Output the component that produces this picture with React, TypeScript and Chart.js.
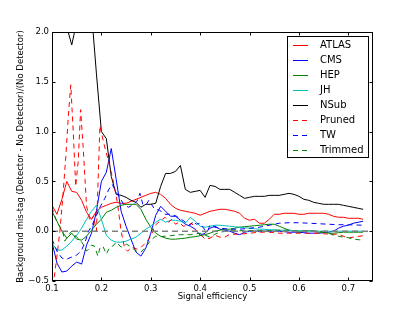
import React, { useEffect, useRef } from "react";
import { Chart, registerables } from "chart.js";

Chart.register(...registerables);

// Common signal-efficiency grid for the solid series
const X = [
  0.10, 0.11, 0.12, 0.13, 0.14, 0.15, 0.16, 0.17, 0.18, 0.19,
  0.20, 0.21, 0.22, 0.23, 0.24, 0.25, 0.26, 0.27, 0.28, 0.29,
  0.30, 0.31, 0.32, 0.33, 0.34, 0.35, 0.36, 0.37, 0.38, 0.39,
  0.40, 0.41, 0.42, 0.43, 0.44, 0.45, 0.46, 0.47, 0.48, 0.49,
  0.50, 0.51, 0.52, 0.53, 0.54, 0.55, 0.56, 0.57, 0.58, 0.59,
  0.60, 0.61, 0.62, 0.63, 0.64, 0.65, 0.66, 0.67, 0.68, 0.69,
  0.70, 0.71, 0.72, 0.73,
];

const ATLAS = [
  0.26, 0.17, 0.32, 0.50, 0.40, 0.39, 0.31, 0.19, 0.12, 0.20,
  0.24, 0.26, 0.28, 0.29, 0.28, 0.28, 0.30, 0.32, 0.34, 0.36,
  0.38, 0.39, 0.37, 0.33, 0.27, 0.23, 0.21, 0.20, 0.19, 0.18,
  0.16, 0.18, 0.20, 0.21, 0.22, 0.22, 0.21, 0.20, 0.18, 0.13,
  0.11, 0.12, 0.08, 0.08, 0.12, 0.17, 0.17, 0.18, 0.18, 0.18,
  0.17, 0.17, 0.18, 0.18, 0.18, 0.18, 0.17, 0.15, 0.14, 0.14,
  0.13, 0.13, 0.13, 0.12,
];

const CMS = [
  -0.11, -0.32, -0.41, -0.40, -0.35, -0.31, -0.33, -0.14, -0.02, 0.20,
  0.50, 0.59, 0.83, 0.52, 0.20, 0.05, -0.08, -0.21, -0.25, -0.17,
  -0.02, 0.16, 0.25, 0.20, 0.15, 0.15, 0.11, 0.07, 0.05, 0.02,
  -0.04, -0.02, 0.03, 0.05, 0.02, 0.01, 0.0, -0.02, -0.035, -0.01,
  0.0, 0.0, 0.0, 0.0, 0.0, 0.0, 0.0, -0.005, -0.01, -0.01,
  -0.01, -0.015, -0.02, -0.02, -0.02, -0.015, -0.01, 0.0, 0.03, 0.05,
  0.06, 0.08, 0.09, 0.10,
];

const HEP = [
  0.20, 0.10, 0.0, -0.07, -0.02, -0.08, -0.09, -0.05, 0.01, 0.07,
  0.12, 0.19, 0.21, 0.24, 0.26, 0.27, 0.27, 0.27, 0.22, 0.12,
  0.04, -0.02, -0.05, -0.07, -0.08, -0.08, -0.075, -0.07, -0.06, -0.055,
  -0.045, -0.035, -0.02, 0.0, 0.01, 0.02, 0.02, 0.03, 0.04, 0.045,
  0.05, 0.055, 0.06, 0.065, 0.07, 0.07, 0.05, 0.03, 0.01, 0.0,
  -0.01, 0.0, 0.005, 0.0, -0.01, -0.01, -0.02, -0.02, -0.015, -0.01,
  -0.01, -0.01, -0.01, -0.01,
];

const JH = [
  -0.12, -0.19, -0.19, -0.15, -0.10, -0.04, 0.03, 0.12, 0.20, 0.26,
  0.12, -0.04, -0.09, -0.11, -0.11, -0.10, -0.08, -0.06, -0.02, 0.02,
  0.05, 0.09, 0.12, 0.09, 0.11, 0.11, 0.10, 0.08, 0.14, 0.10,
  0.05, 0.04, 0.05, 0.06, 0.06, 0.055, 0.05, 0.045, 0.04, 0.035,
  0.03, 0.025, 0.02, 0.02, 0.015, 0.015, 0.01, 0.01, 0.01, 0.005,
  0.005, 0.005, 0.0, 0.0, 0.0, 0.0, 0.0, 0.0, 0.0, 0.0,
  0.0, 0.0, 0.0, 0.0,
];

const NSUB = [
  2.5, 2.35, 2.2, 2.05, 1.87, 2.1, 2.4, 2.5, 2.2, 1.58,
  1.0, 0.93, 0.55, 0.37, 0.36, 0.34, 0.31, 0.29, 0.24, 0.27,
  0.27, 0.28, 0.45, 0.58, 0.58, 0.60, 0.66, 0.42, 0.39, 0.40,
  0.41, 0.34, 0.46, 0.45, 0.42, 0.42, 0.42, 0.39, 0.36, 0.33,
  0.34, 0.35, 0.35, 0.35, 0.36, 0.36, 0.36, 0.37, 0.38, 0.37,
  0.35, 0.32, 0.31, 0.29, 0.28, 0.27, 0.27, 0.27, 0.27, 0.26,
  0.25, 0.24, 0.23, 0.22,
];

const PRUNED_X = [
  0.100, 0.105, 0.110, 0.116, 0.122, 0.128, 0.133, 0.138, 0.143, 0.148,
  0.153, 0.158, 0.163, 0.170, 0.177, 0.184, 0.190, 0.197, 0.205, 0.214,
  0.222, 0.232, 0.240, 0.247, 0.253, 0.262, 0.272, 0.281, 0.291, 0.301,
  0.308, 0.318, 0.329, 0.336, 0.343, 0.350, 0.357, 0.366, 0.375, 0.383,
  0.390, 0.400, 0.410, 0.420, 0.430, 0.440, 0.450, 0.460, 0.480, 0.500,
  0.520, 0.540, 0.560, 0.580, 0.600, 0.620, 0.640, 0.660, 0.680, 0.700,
  0.710, 0.730,
];
const PRUNED = [
  -0.55, -0.45, -0.25, 0.0, 0.35, 0.75, 1.15, 1.47, 1.0, 0.45,
  0.7, 1.22, 0.85, 0.25, 0.1, 0.15, 0.0, 1.06, 0.88, 0.71,
  0.55, 0.3, 0.0, -0.17, -0.2, -0.16, -0.18, -0.16, -0.11, -0.045,
  0.055, 0.10, 0.14, 0.09, 0.12, 0.07, 0.09, 0.05, 0.06, 0.08,
  0.02, -0.03, -0.08, -0.07, -0.04, -0.06, -0.06, -0.03, -0.03, -0.02,
  -0.01, -0.01, -0.02, -0.02, -0.02, -0.02, -0.02, -0.03, -0.03, -0.07,
  -0.06, -0.045,
];

const TW_X = [
  0.100, 0.110, 0.120, 0.130, 0.140, 0.150, 0.160, 0.167, 0.174, 0.180,
  0.184, 0.190, 0.197, 0.207, 0.215, 0.222, 0.230, 0.237, 0.245, 0.255,
  0.265, 0.272, 0.278, 0.284, 0.290, 0.296, 0.300, 0.308, 0.318, 0.329,
  0.340, 0.352, 0.362, 0.370, 0.380, 0.386, 0.392, 0.400, 0.410, 0.415,
  0.420, 0.430, 0.440, 0.460, 0.480, 0.500, 0.520, 0.540, 0.560, 0.580,
  0.600, 0.620, 0.640, 0.660, 0.680, 0.700, 0.730,
];
const TW = [
  -0.08, -0.20, -0.27, -0.28, -0.26, -0.24, -0.19, -0.11, 0.0, 0.05,
  0.09, 0.16, 0.24, 0.33, 0.42, 0.47, 0.39, 0.34, 0.27, 0.24,
  0.27, 0.30, 0.38, 0.27, 0.26, 0.31, 0.28, 0.22, 0.21, 0.17,
  0.17, 0.15, 0.12, 0.09, 0.06, 0.10, 0.07, 0.08, 0.01, 0.0,
  0.06, 0.04, 0.03, 0.02, 0.02, 0.03, 0.04, 0.06, 0.08, 0.085,
  0.085, 0.08, 0.075, 0.07, 0.065, 0.065, 0.06,
];

const TRIMMED_X = [
  0.100, 0.105, 0.110, 0.115, 0.120, 0.126, 0.133, 0.140, 0.145, 0.150,
  0.157, 0.163, 0.170, 0.174, 0.180, 0.186, 0.193, 0.197, 0.203, 0.210,
  0.217, 0.223, 0.230, 0.240, 0.251, 0.260, 0.271, 0.280, 0.291, 0.300,
  0.310, 0.320, 0.340, 0.360, 0.380, 0.400, 0.410, 0.420, 0.430, 0.440,
  0.460, 0.480, 0.500, 0.520, 0.540, 0.560, 0.580, 0.600, 0.620, 0.640,
  0.660, 0.670, 0.680, 0.690, 0.700, 0.710, 0.720, 0.730,
];
const TRIMMED = [
  0.24, 0.16, 0.09, 0.05, 0.03, -0.10, -0.04, 0.0, -0.03, -0.06,
  -0.09, -0.13, -0.20, -0.18, -0.14, -0.15, -0.25, -0.17, -0.15, -0.23,
  -0.16, -0.15, -0.11, -0.16, -0.13, -0.16, -0.20, -0.21, -0.15, -0.09,
  -0.05, -0.055, -0.045, -0.035, -0.035, -0.02, -0.04, -0.06, -0.03, -0.01,
  0.005, 0.005, 0.005, 0.005, 0.005, 0.01, 0.01, 0.0, 0.005, 0.0,
  -0.02, -0.04, -0.05, -0.06, -0.065, -0.08, -0.085, -0.09,
];

const ZERO_X = [0.1, 0.75];
const ZERO_Y = [0, 0];

const X_TICKS = [0.1, 0.2, 0.3, 0.4, 0.5, 0.6, 0.7];
const X_TICK_LABELS = ["0.1", "0.2", "0.3", "0.4", "0.5", "0.6", "0.7"];
const Y_TICKS = [-0.5, 0.0, 0.5, 1.0, 1.5, 2.0];
const Y_TICK_LABELS = ["\u22120.5", "0.0", "0.5", "1.0", "1.5", "2.0"];

const FONT = '"DejaVu Sans", "Liberation Sans", sans-serif';

type S = { label: string; xs: number[]; ys: number[]; color: string; dash: number[] };

const SERIES: S[] = [
  { label: "ATLAS", xs: X, ys: ATLAS, color: "#ff0000", dash: [] },
  { label: "CMS", xs: X, ys: CMS, color: "#0000ff", dash: [] },
  { label: "HEP", xs: X, ys: HEP, color: "#008000", dash: [] },
  { label: "JH", xs: X, ys: JH, color: "#00bfbf", dash: [] },
  { label: "NSub", xs: X, ys: NSUB, color: "#000000", dash: [] },
  { label: "Pruned", xs: PRUNED_X, ys: PRUNED, color: "#ff0000", dash: [5, 4] },
  { label: "TW", xs: TW_X, ys: TW, color: "#0000ff", dash: [5, 4] },
  { label: "Trimmed", xs: TRIMMED_X, ys: TRIMMED, color: "#008000", dash: [5, 4] },
];

const framePlugin = {
  id: "mplFrame",
  afterDatasetsDraw(chart: any) {
    const { ctx, chartArea, scales } = chart;
    const { left, right, top, bottom } = chartArea;
    const xs = scales.x;
    const ys = scales.y;
    ctx.save();
    ctx.strokeStyle = "#000";
    ctx.lineWidth = 1;
    ctx.setLineDash([]);
    const L = Math.round(left) + 0.5;
    const R = Math.round(right) - 0.5;
    const T = Math.round(top) + 0.5;
    const B = Math.round(bottom) - 0.5;
    ctx.strokeRect(L, T, R - L, B - T);
    const tl = 3;
    ctx.beginPath();
    for (const v of X_TICKS) {
      const px = Math.round(xs.getPixelForValue(v)) + 0.5;
      ctx.moveTo(px, B);
      ctx.lineTo(px, B - tl);
      ctx.moveTo(px, T);
      ctx.lineTo(px, T + tl);
    }
    for (const v of Y_TICKS) {
      const py = Math.round(ys.getPixelForValue(v)) + 0.5;
      ctx.moveTo(L, py);
      ctx.lineTo(L + tl, py);
      ctx.moveTo(R, py);
      ctx.lineTo(R - tl, py);
    }
    ctx.stroke();
    ctx.restore();
  },
  afterDraw(chart: any) {
    const { ctx, chartArea } = chart;
    const { right, top } = chartArea;
    const boxR = Math.round(right) - 5;
    const boxL = boxR - 81;
    const boxT = Math.round(top) + 4;
    const rowH = 15;
    const boxH = 121;
    ctx.save();
    ctx.fillStyle = "#ffffff";
    ctx.fillRect(boxL + 0.5, boxT + 0.5, boxR - boxL, boxH);
    ctx.strokeStyle = "#000";
    ctx.lineWidth = 1;
    ctx.setLineDash([]);
    ctx.strokeRect(boxL + 0.5, boxT + 0.5, boxR - boxL, boxH);
    ctx.font = `10px ${FONT}`;
    ctx.textBaseline = "middle";
    ctx.textAlign = "left";
    SERIES.forEach((s, i) => {
      const y = boxT + 8.5 + i * rowH;
      ctx.strokeStyle = s.color;
      ctx.lineWidth = 1;
      ctx.setLineDash(s.dash);
      ctx.beginPath();
      ctx.moveTo(boxL + 6, Math.round(y) + 0.5);
      ctx.lineTo(boxL + 21, Math.round(y) + 0.5);
      ctx.stroke();
      ctx.setLineDash([]);
      ctx.fillStyle = "#000";
      ctx.fillText(s.label, boxL + 33, y + 0.5);
    });
    ctx.restore();
  },
};

export default function App() {
  const ref = useRef<HTMLCanvasElement | null>(null);

  useEffect(() => {
    if (!ref.current) return;
    const datasets: any[] = SERIES.map((s, i) => ({
      label: s.label,
      data: s.xs.map((x, j) => ({ x, y: s.ys[j] })),
      borderColor: s.color,
      backgroundColor: s.color,
      borderWidth: 1,
      borderDash: s.dash,
      pointRadius: 0,
      tension: 0,
      fill: false,
      order: -i,
    }));
    datasets.push({
      label: "zero",
      data: ZERO_X.map((x, j) => ({ x, y: ZERO_Y[j] })),
      borderColor: "#808080",
      borderWidth: 1.6,
      borderDash: [6, 4],
      pointRadius: 0,
      fill: false,
      order: -100,
    });

    const tickFont = { family: FONT, size: 8.5 };
    const chart = new Chart(ref.current, {
      type: "line",
      data: { datasets },
      plugins: [framePlugin],
      options: {
        responsive: false,
        animation: false,
        events: [],
        layout: { padding: { left: 0, top: 32, right: 42, bottom: 0 } },
        plugins: {
          legend: { display: false },
          tooltip: { enabled: false },
          title: { display: false },
        },
        scales: {
          x: {
            type: "linear",
            min: 0.1,
            max: 0.75,
            afterBuildTicks: (s: any) => {
              s.ticks = X_TICKS.map((v) => ({ value: v }));
            },
            afterFit: (s: any) => {
              s.height = 31;
            },
            grid: { display: false, drawTicks: false },
            border: { display: false },
            ticks: {
              autoSkip: false,
              maxRotation: 0,
              color: "#000",
              font: tickFont,
              padding: 3,
              callback: (v: any) => {
                const k = X_TICKS.findIndex((t) => Math.abs(t - Number(v)) < 1e-9);
                return k >= 0 ? X_TICK_LABELS[k] : "";
              },
            },
            title: {
              display: true,
              text: "Signal efficiency",
              color: "#000",
              font: tickFont,
              padding: { top: 0, bottom: 10 },
            },
          },
          y: {
            type: "linear",
            min: -0.5,
            max: 2.0,
            afterBuildTicks: (s: any) => {
              s.ticks = Y_TICKS.map((v) => ({ value: v }));
            },
            afterFit: (s: any) => {
              s.width = 52;
            },
            grid: { display: false, drawTicks: false },
            border: { display: false },
            ticks: {
              autoSkip: false,
              color: "#000",
              font: tickFont,
              padding: 3,
              callback: (v: any) => {
                const k = Y_TICKS.findIndex((t) => Math.abs(t - Number(v)) < 1e-9);
                return k >= 0 ? Y_TICK_LABELS[k] : "";
              },
            },
            title: {
              display: true,
              text: "Background mis-tag (Detector - No Detector)/(No Detector)",
              color: "#000",
              font: tickFont,
              padding: { top: 16, bottom: 0 },
            },
          },
        },
      } as any,
    });
    return () => chart.destroy();
  }, []);

  return (
    <div style={{ position: "fixed", left: 0, top: 0, width: 415, height: 312, background: "#fff" }}>
      <canvas ref={ref} width={415} height={312} style={{ width: 415, height: 312, display: "block" }} />
    </div>
  );
}
